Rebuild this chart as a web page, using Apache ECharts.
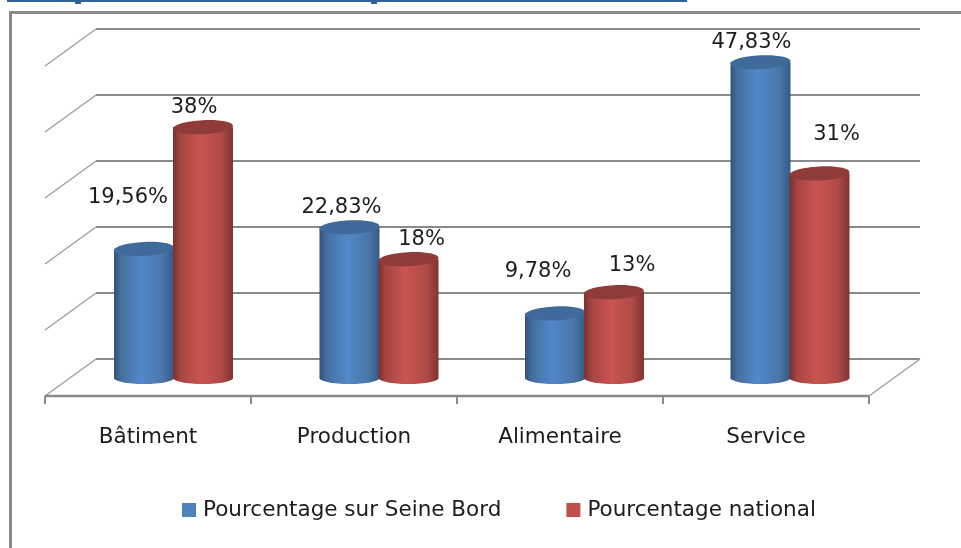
<!DOCTYPE html>
<html><head><meta charset="utf-8">
<style>html,body{margin:0;padding:0;background:#fff}#c{width:961px;height:548px}</style>
<script src="https://cdn.jsdelivr.net/npm/echarts@6/dist/echarts.min.js"></script>
</head><body><div id="c"></div>
<script>
const categories = ['Bâtiment', 'Production', 'Alimentaire', 'Service'];
const seineBord = [19.56, 22.83, 9.78, 47.83];
const national = [38, 18, 13, 31];
const yTicks = [0, 10, 20, 30, 40, 50];
const seriesNames = ['Pourcentage sur Seine Bord', 'Pourcentage national'];

// manual label placement relative to the cylinder top, as in the source chart
const seineLabelShift = [[-16, -51], [-8, -20], [-17, -42], [-9, -20]];
const nationalLabelShift = [[-9, -20], [13, -20], [18, -27], [17, -39]];

const FONT = '"DejaVu Sans"';
const TEXT = '#1c1c1c';
const BACK = [25.5, -19], FRONT = [-25.5, 18];
const CYL_W = 60, RY = 7;
const LINE = '#8a8a8a';

function cyl(colors, topColor, sign, shifts) {
  return function (params, api) {
    const i = api.value(0), v = api.value(1);
    const base = api.coord([i, 0]), top = api.coord([i, v]);
    const cx = base[0] + sign * CYL_W / 2 - sign * 0.5 - 0.5 * i, L = cx - CYL_W / 2;
    const grad = { type: 'linear', x: 0, y: 0, x2: 1, y2: 0, colorStops: colors };
    const s = shifts[i];
    return { type: 'group', children: [
      { type: 'ellipse', shape: { cx, cy: base[1], rx: CYL_W / 2, ry: RY - 1 }, style: { fill: grad } },
      { type: 'rect', shape: { x: L, y: top[1], width: CYL_W, height: base[1] - top[1] }, style: { fill: grad } },
      { type: 'ellipse', shape: { cx, cy: top[1], rx: CYL_W / 2, ry: RY }, originX: cx, originY: top[1], rotation: 0.05, style: { fill: topColor } },
      { type: 'text', x: cx + s[0], y: top[1] + s[1], style: {
        text: String(v).replace('.', ',') + '%', fontFamily: FONT, fontSize: 21, fill: TEXT, align: 'center', verticalAlign: 'middle' } }
    ] };
  };
}

function wall(params, api) {
  const v = api.value(0);
  const band = api.size([1, 0])[0];
  const l = api.coord([0, v]), r = api.coord([categories.length - 1, v]);
  const x0 = l[0] - band / 2, x1 = r[0] + band / 2, y = l[1];
  const children = [
    { type: 'line', shape: { x1: x0 + FRONT[0], y1: y + FRONT[1], x2: x0 + BACK[0], y2: y + BACK[1] },
      style: { stroke: '#a0a0a0', lineWidth: 1.5 } },
    { type: 'line', shape: { x1: x0 + BACK[0], y1: y + BACK[1], x2: x1 + BACK[0], y2: y + BACK[1] },
      style: { stroke: LINE, lineWidth: 2 } }
  ];
  if (v === 0) {
    children.push({ type: 'line', shape: { x1: x0 + FRONT[0], y1: y + FRONT[1], x2: x1 + FRONT[0], y2: y + FRONT[1] },
      style: { stroke: LINE, lineWidth: 2.5 } });
    children.push({ type: 'line', shape: { x1: x1 + FRONT[0], y1: y + FRONT[1], x2: x1 + BACK[0], y2: y + BACK[1] },
      style: { stroke: '#a0a0a0', lineWidth: 1.5 } });
    for (let k = 0; k <= categories.length; k++) {
      const tx = x0 + band * k + FRONT[0];
      children.push({ type: 'line', shape: { x1: tx, y1: y + FRONT[1], x2: tx, y2: y + FRONT[1] + 8 },
        style: { stroke: LINE, lineWidth: 2 } });
    }
  }
  return { type: 'group', children };
}

const chart = echarts.init(document.getElementById('c'), null, { renderer: 'canvas' });
chart.setOption({
  animation: false,
  backgroundColor: '#fff',
  grid: { left: 70.5, width: 824, top: 48, height: 330 },
  xAxis: { type: 'category', data: categories, axisLine: { show: false }, axisTick: { show: false },
    axisLabel: { fontFamily: FONT, fontSize: 21.5, color: TEXT, margin: 48, padding: [0, 51, 0, 0] } },
  yAxis: { type: 'value', min: 0, max: 50, interval: 10, axisLine: { show: false }, axisTick: { show: false },
    axisLabel: { show: false }, splitLine: { show: false } },
  legend: { left: 182, top: 499, padding: 0, icon: 'rect', itemWidth: 14, itemHeight: 14, itemGap: 65,
    textStyle: { fontFamily: FONT, fontSize: 21.5, color: TEXT, padding: [0, 0, 0, 2] },
    data: [{ name: seriesNames[0], itemStyle: { color: '#4f81bd' } }, { name: seriesNames[1], itemStyle: { color: '#c0504d' } }] },
  series: [
    { type: 'custom', name: 'walls', coordinateSystem: 'cartesian2d', data: yTicks.map(v => [v]), renderItem: wall,
      encode: { y: 0 }, silent: true, clip: false },
    { type: 'custom', name: seriesNames[0], coordinateSystem: 'cartesian2d', clip: false,
      data: seineBord.map((v, i) => [i, v]), encode: { x: 0, y: 1 },
      itemStyle: { color: '#4f81bd' },
      renderItem: cyl([{ offset: 0, color: '#2f5378' }, { offset: .12, color: '#44709f' }, { offset: .45, color: '#5288c9' },
        { offset: .8, color: '#4a77ab' }, { offset: 1, color: '#345a84' }], '#3f6b9b', -1, seineLabelShift) },
    { type: 'custom', name: seriesNames[1], coordinateSystem: 'cartesian2d', clip: false,
      data: national.map((v, i) => [i, v]), encode: { x: 0, y: 1 },
      itemStyle: { color: '#c0504d' },
      renderItem: cyl([{ offset: 0, color: '#7a302f' }, { offset: .12, color: '#a34542' }, { offset: .45, color: '#cb5450' },
        { offset: .8, color: '#b04a47' }, { offset: 1, color: '#7e3533' }], '#8f3b39', 1, nationalLabelShift) }
  ],
  graphic: [
    { type: 'rect', silent: true, shape: { x: 7, y: 0, width: 680, height: 2 }, style: { fill: '#2f6295' } },
    { type: 'rect', silent: true, shape: { x: 75, y: 2, width: 6, height: 2 }, style: { fill: '#2f6295' } },
    { type: 'rect', silent: true, shape: { x: 371, y: 2, width: 6, height: 2 }, style: { fill: '#2f6295' } },
    { type: 'rect', silent: true, shape: { x: 9, y: 11, width: 952, height: 3 }, style: { fill: '#8a8a8a' } },
    { type: 'rect', silent: true, shape: { x: 9, y: 11, width: 3, height: 537 }, style: { fill: '#8a8a8a' } }
  ]
});
</script></body></html>
